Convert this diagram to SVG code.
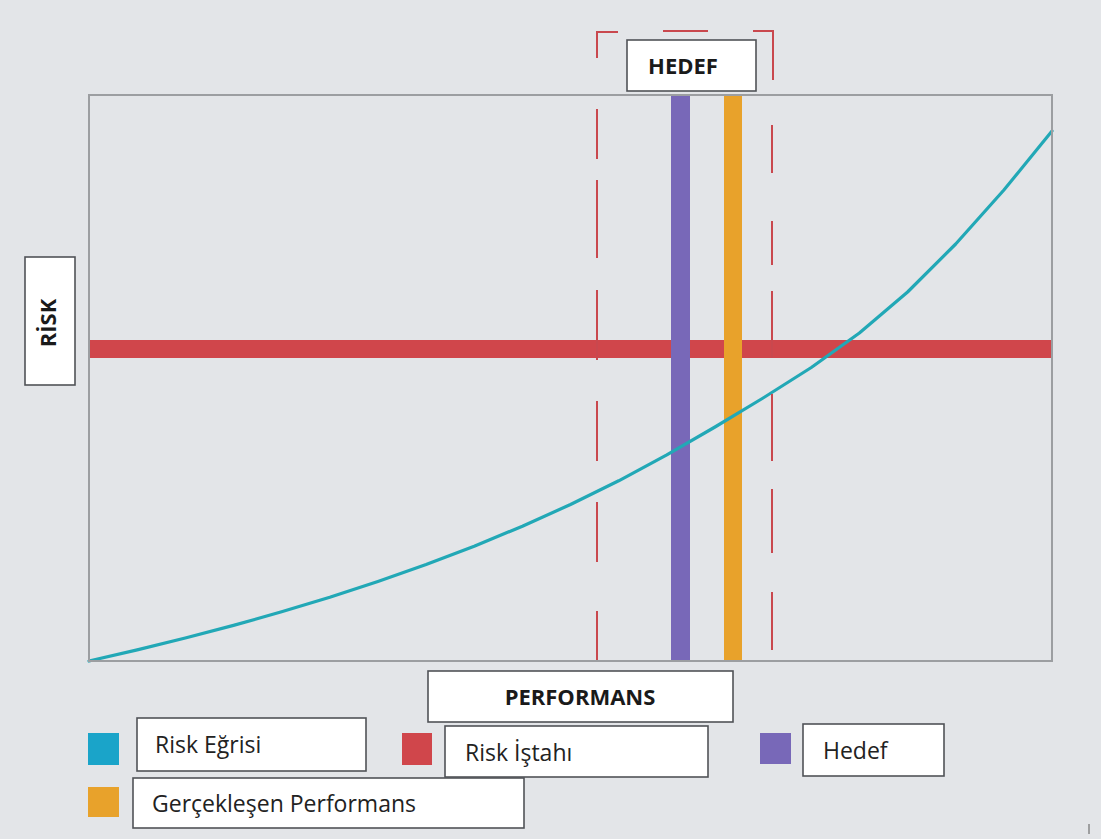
<svg xmlns="http://www.w3.org/2000/svg" width="1101" height="839" viewBox="0 0 1101 839">
  <style>
    .box { fill: #ffffff; stroke: #505357; stroke-width: 1.6; }
    .lbl { font-family: "Open Sans", "Liberation Sans", sans-serif; font-size: 23px; fill: #222222; }
    .bold { font-family: "Open Sans", "Liberation Sans", sans-serif; font-size: 22px; font-weight: 700; fill: #1a1a1a; }
    .dash { stroke: #c9484e; stroke-width: 2; fill: none; }
  </style>

  <!-- background -->
  <rect x="0" y="0" width="1101" height="839" fill="#e3e5e8"/>

  <!-- chart area -->
  <g id="chart">
    <!-- risk appetite band -->
    <rect x="89" y="340" width="963" height="18" fill="#d0464b"/>
    <!-- target bar -->
    <rect x="671" y="95" width="19" height="566" fill="#7868b8"/>
    <!-- realised performance bar -->
    <rect x="724" y="95" width="18" height="566" fill="#e8a22b"/>
  </g>

  <g id="connectors">
    <!-- risk curve -->
    <path d="M89,661 L137.2,649.9 L185.3,638 L233.5,625.4 L281.6,611.8 L329.8,597.3 L377.9,581.5 L426.1,564.6 L474.2,546.2 L522.4,526.2 L570.5,504.5 L618.7,480.8 L666.8,454.9 L715,427 L763.1,398 L811.3,367.5 L859.4,333 L907.6,292 L955.7,244 L1003.9,190 L1052,131" fill="none" stroke="#22a8b6" stroke-width="3.2" stroke-linejoin="round" stroke-linecap="round"/>

    <!-- tolerance bracket -->
    <path class="dash" d="M597,58 V32 H618 M663,31 H708 M753,31 H773 V80"/>
    <path class="dash" d="M597,109 V159 M597,180 V258 M597,290 V360 M597,401 V461 M597,502 V562 M597,611 V660"/>
    <path class="dash" d="M772,125 V173 M772,221 V265 M772,291 V358 M772,394 V461 M772,489 V553 M772,592 V650"/>
  </g>

  <!-- plot frame -->
  <rect x="89" y="95" width="963" height="566" fill="none" stroke="#9c9ea1" stroke-width="2"/>

  <g id="hedef-title">
    <rect class="box" x="627" y="40" width="129" height="51"/>
    <text class="bold" x="683" y="74" text-anchor="middle">HEDEF</text>
  </g>

  <g id="risk-axis">
    <rect class="box" x="25" y="257" width="50" height="128"/>
    <text class="bold" transform="translate(56,323) rotate(-90)" text-anchor="middle">RİSK</text>
  </g>

  <g id="performans-axis">
    <rect class="box" x="428" y="671" width="305" height="51"/>
    <text class="bold" x="580" y="705" text-anchor="middle">PERFORMANS</text>
  </g>

  <g id="legend-risk-egrisi">
    <rect x="88" y="733" width="31" height="32" fill="#1aa4c9"/>
    <rect class="box" x="137" y="718" width="229" height="53"/>
    <text class="lbl" x="155" y="753">Risk Eğrisi</text>
  </g>

  <g id="legend-risk-istahi">
    <rect x="402" y="733" width="30" height="32" fill="#d0464b"/>
    <rect class="box" x="445" y="726" width="263" height="51"/>
    <text class="lbl" x="465" y="761">Risk İştahı</text>
  </g>

  <g id="legend-hedef">
    <rect x="760" y="733" width="31" height="31" fill="#7868b8"/>
    <rect class="box" x="803" y="724" width="141" height="52"/>
    <text class="lbl" x="823" y="759">Hedef</text>
  </g>

  <g id="legend-gerceklesen">
    <rect x="88" y="787" width="31" height="30" fill="#e8a22b"/>
    <rect class="box" x="133" y="778" width="391" height="50"/>
    <text class="lbl" x="152" y="812">Gerçekleşen Performans</text>
  </g>

  <line x1="1089" y1="824" x2="1089" y2="834" stroke="#707070" stroke-width="1.2"/>
</svg>
